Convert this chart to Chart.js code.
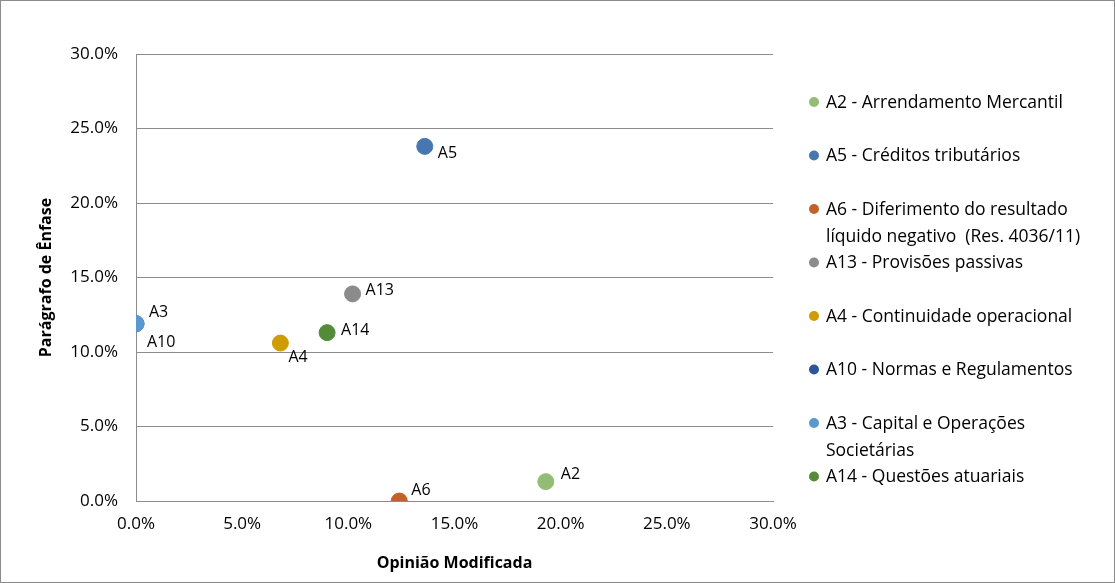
<!DOCTYPE html>
<html>
<head>
<meta charset="utf-8">
<script src="https://cdn.jsdelivr.net/npm/chart.js@4/dist/chart.umd.min.js"></script>
<style>
  html, body { margin: 0; padding: 0; background: #fff; }
  #wrap { width: 1115px; height: 583px; }
</style>
</head>
<body>
<div id="wrap"><canvas id="chart"></canvas></div>
<script>
// Data (percent values)
const codes = ['A2', 'A5', 'A6', 'A13', 'A4', 'A10', 'A3', 'A14'];
const legendLabels = [
  ['A2 - Arrendamento Mercantil'],
  ['A5 - Créditos tributários'],
  ['A6 - Diferimento do resultado', 'líquido negativo  (Res. 4036/11)'],
  ['A13 - Provisões passivas'],
  ['A4 - Continuidade operacional'],
  ['A10 - Normas e Regulamentos'],
  ['A3 - Capital e Operações', 'Societárias'],
  ['A14 - Questões atuariais']
];
const opiniaoModificada = [19.3, 13.6, 12.4, 10.2, 6.8, 0.0, 0.0, 9.0];
const paragrafoEnfase = [1.3, 23.8, 0.0, 13.9, 10.6, 11.9, 11.9, 11.3];
const tickValues = [0, 5, 10, 15, 20, 25, 30];

// Styles
const colors = ['#93bd74', '#4677ae', '#c0622a', '#8b8b8b', '#cf9c05', '#2e5597', '#5b97d0', '#548a38'];
const labelOffsets = [[15, -7], [13, 7], [12, -11], [13, -3], [8, 14], [11, 19], [13, -11], [14, -2]];
const FONT = '"Open Sans", sans-serif';

const pointLabels = {
  id: 'pointLabels',
  afterDatasetsDraw(chart) {
    const ctx = chart.ctx;
    ctx.save();
    ctx.font = '16px ' + FONT;
    ctx.fillStyle = '#000';
    ctx.textBaseline = 'middle';
    ctx.textAlign = 'left';
    chart.data.datasets.forEach((ds, i) => {
      const pt = chart.getDatasetMeta(i).data[0];
      ctx.fillText(codes[i], pt.x + labelOffsets[i][0], pt.y + labelOffsets[i][1]);
    });
    ctx.restore();
  }
};

const sideLegend = {
  id: 'sideLegend',
  afterDraw(chart) {
    const ctx = chart.ctx;
    ctx.save();
    ctx.font = '17.5px ' + FONT;
    ctx.textBaseline = 'middle';
    ctx.textAlign = 'left';
    legendLabels.forEach((lines, i) => {
      const y = 102 + i * 53.5;
      ctx.fillStyle = colors[i];
      ctx.beginPath();
      ctx.arc(814, y, 5, 0, Math.PI * 2);
      ctx.fill();
      ctx.fillStyle = '#000';
      lines.forEach((t, j) => ctx.fillText(t, 826, y + 1 + j * 27));
    });
    // outer frame
    ctx.strokeStyle = '#8c8c8c';
    ctx.lineWidth = 1;
    ctx.strokeRect(0.5, 0.5, chart.width - 1, chart.height - 1);
    ctx.restore();
  }
};

new Chart(document.getElementById('chart'), {
  type: 'scatter',
  data: {
    datasets: codes.map((c, i) => ({
      label: c,
      data: [{ x: opiniaoModificada[i], y: paragrafoEnfase[i] }],
      backgroundColor: colors[i],
      borderColor: colors[i],
      pointRadius: 8,
      pointHoverRadius: 8,
      order: c === 'A10' ? 1 : 0,
      clip: { left: 0, bottom: 0, top: false, right: false }
    }))
  },
  options: {
    responsive: true,
    maintainAspectRatio: false,
    animation: false,
    layout: { padding: { left: 0, top: 54, right: 342, bottom: 0 } },
    plugins: {
      legend: { display: false },
      tooltip: { enabled: false }
    },
    scales: {
      x: {
        type: 'linear',
        min: 0,
        max: 30,
        afterBuildTicks: s => { s.ticks = tickValues.map(v => ({ value: v })); },
        afterFit: s => { s.height = 82; },
        grid: { display: false, drawTicks: false },
        border: { display: true, color: '#8c8c8c' },
        ticks: {
          padding: 13,
          color: '#000',
          font: { family: FONT, size: 17 },
          callback: v => v.toFixed(1) + '%'
        },
        title: {
          display: true,
          text: 'Opinião Modificada',
          color: '#000',
          font: { family: FONT, size: 16, weight: 'bold' },
          padding: { top: 0, bottom: 10 }
        }
      },
      y: {
        type: 'linear',
        min: 0,
        max: 30,
        afterBuildTicks: s => { s.ticks = tickValues.map(v => ({ value: v })); },
        afterFit: s => { s.width = 136; },
        grid: { color: '#8c8c8c', drawTicks: false },
        border: { display: true, color: '#8c8c8c' },
        ticks: {
          padding: 18,
          color: '#000',
          font: { family: FONT, size: 17 },
          callback: v => v.toFixed(1) + '%'
        },
        title: {
          display: true,
          text: 'Parágrafo de Ênfase',
          color: '#000',
          font: { family: FONT, size: 16, weight: 'bold' },
          padding: { bottom: 0, top: 37 }
        }
      }
    }
  },
  plugins: [pointLabels, sideLegend]
});
</script>
</body>
</html>
